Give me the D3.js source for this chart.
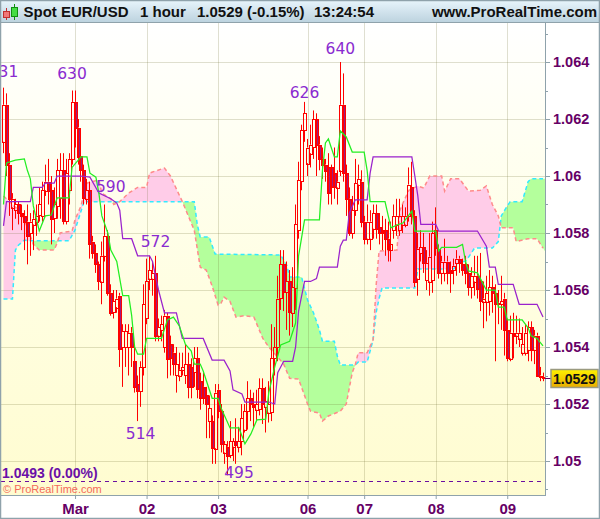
<!DOCTYPE html>
<html><head><meta charset="utf-8">
<script src="https://cdn.jsdelivr.net/npm/d3@7"></script>
<style>html,body{margin:0;padding:0;background:#fff}svg{display:block}</style>
</head><body><svg id="c" width="600" height="519"></svg>
<script>
// prices in pips above 1.0000 (630 = 1.0630), one entry per hourly candle
const opens=[612,625,604,589,588,590,587,586,584,580,
583,584,586,586,595,598,595,585,589.5,592,
602,584,595,606,626,617,607,602,592,595,
577,573,569,563,572,579,559,552,554,558,
540,540,540,545,535,527,524.5,533,550,564,
564,566,544,546,540,551,541,538,530,530,
532,530,534,533,531,536,528,526,523,514,
514,504.5,525,517.5,503,505,502,505,507,505,
507,511,517.5,522,520,518,518,525.5,519,517,
517,536,540,557,569,559,563,552,560.5,581,
598,616,604.5,608,610,620,611,606,604,603,
603,601,596,602,625,601,592,580,588,597,
598,584,578,578,581.5,587,582,581,581,578,
574,581,583,581,583,583,586,596,586,564,
573,575,563.5,563,563.5,581,574.5,566,566,570,
567,567,569.5,571,569,569,566,561,563,565,
563,556,556,556,561,559,555,555,557,546,
536,545,544,543,538,538,539,547,539,544,
530,529.5];
const closes=[625,604,592,592,590,587,586,584,579,584,
585,586,590,595,598,595,585,590,602,602,
584,601,606,626,617,607,602,592,595,576,
573,569,563,572,579,559,552,556,557,539.5,
545.5,545.5,545,540,526,524.5,533,555,563,567,
566,544,547,548,551,536,536,534,534,532,
533,534,526,526,536,525,522,522,520,518.5,
504.5,524,517.5,506,506,502,507,507,505.5,507,
515,517.5,522,520,519,520,525.5,520,521,520,
536,540,557,569,559,563,552,561,583,598.5,
616,622,610,611,620,611,606,604,602,594,
596,596,598,625,601,592,580,588,597.5,599,
584,578,584,584,587,581.5,580,580,578,574.5,
576,586,586,586,586,586,597,586,563,574.5,
575,569.5,569.5,571.7,580,574.7,566,570,570,566,
566,568.5,571,569.5,567,566,561,565,565,560.5,
556,557,559,561,559,555,555.5,556,546,536,
545,544,545,545,541,545,547,539,544,530,
529.5,529];
const highs=[631,629,608,594,592,591,590,588,590,587,
588,590,596,598,604,606,600,596,606,608,
608,606,608,630,630,620,611,604,599,598,
579,576,570,577,590,581,562,560,560,559,
548,548,548,547,540,530,535,562,571,572,
570,572,550,551,553,552,544,541,540,538,
538,541,538,536,540,540,531,531,526,523,
516,527,527,520,507,507,514,508,515,512,
520,520,528,525,524,525,529,529,526,528,
548,547,565,574,574,570,567,568,590,605,
618,626,613,618,623,622,614,610,606,608,
604,610,602,640,636,604,596,593,606,604,
602,586,590,588,590,590,587,586,585,584,
584,590,592,592,590,589,603,605,588,580,
581,580,574,580,584,589,576,572,578,572,
570,571,574,572,571,572,569,568,572,572,
573,563,565,567,565,562,560,565,559,550,
551,552,551,550,547,548,549,549,546,545,
533,531];
const lows=[608,600,586,581,585,583,581,574,569,572,
574,579,584,584,593,590,576,580,585,585,
583,583,590,604,610,604,598,590,590,571,
571,566,560,555,570,558,551,550,552,533,
526,533,530,533,524,514,519,530,548,560,
558,542,542,542,538,529,530,530,524,528,
530,527,522,522,526,522,518,520,508,508,
499,499,515,503,499,495,501,500,499,503,
502,510,511,514,512,514,516,513,510,513.5,
514,530,535,553,552.6,546,544,547,553,578,
595,612,600,603,606,600,602,599,598,590,
590,592,590,600,598,586,579,578,586,590,
582,576,576,574,578,578,576,574,572,570,
570,578,579,579,580,582,584,583,561,558,
570,566,560,558,559,572,564,562,563,562,
559,562,565,566,565,562,558,557,558,557,
552.6,546.6,549,551,552,535,548,546,537,535,
535,536,541,540,537,537,535,535,534,530,
528,528];

// Ichimoku lines: candle index where the level changes, and the level
const kijunIdx=[0,1,9,10,13,14,17,18,26,29,32,36,38,39,40,43,45,49,50,52,54,58,60,67,70,74,76,77,80,81,89,91,92,94,97,98,99,101,103,105,106,112,113,114,115,116,118,122,123,124,137,138,139,140,145,146,159,162,163,165,166,171,173,179,181];
const kijunVal=[582.5,591,591,596,596,597.5,597.5,600,600,599.6,594,592,590.5,588,578,578,572,572,570,560,552,552,543,543,535.4,535.4,531.6,525,523.5,520.7,520.7,520,531,535,535,540,552.6,563,563,564,568,568,575.4,577.5,577.5,587,591.6,591.6,601,606.7,606.7,600,593,583,583,580.7,580.7,575.4,568,568,562,562,555,555,550.5];
const tenkanIdx=[0,1,4,7,8,9,10,12,14,16,18,22,23,26,28,29,31,32,33,35,36,38,40,42,43,44,45,47,48,53,55,57,59,61,63,64,66,67,70,72,73,76,79,81,83,85,88,89,91,93,96,98,99,101,106,107,108,109,111,112,113,115,117,121,122,123,128,130,132,134,136,137,138,145,146,147,152,154,155,156,159,162,165,166,168,169,174,176,177,179,181];
const tenkanVal=[590,604.6,605.6,606,602,599,589.5,580.7,586,586.3,592.3,592.3,603,606.7,606.7,601,599.6,594,586,580,574,570,558,558,551,540,537.5,537.5,543,543,549.5,550.5,547.4,541,538.6,534,534,531.6,522,522,518.6,511.6,511.6,506,509.5,514.4,514.7,524,533,540.7,542,548.4,572,584.6,584.6,602,611.6,613,606.7,606.7,615.8,613.7,608.4,608.4,602,591,591,581.8,582.8,583.5,586.3,587.7,580.7,580.7,573.7,575,575,576,570,566.7,566,560,560,554,554,549.5,549.5,546.7,543.9,543,540.4];
const spanAIdx=[0,3,4,5,7,8,22,24,27,64,65,66,69,71,93,95,96,100,102,104,106,107,111,112,113,118,119,122,124,125,126,127,138,139,151,153,155,157,158,164,166,167,169,170,174,176,177,181];
const spanAVal=[556.8,556.8,574,575.7,577.5,577.3,577.3,581,591,591,583,578.6,578.6,572.6,572.3,568.8,564.6,564.6,556.5,552,546,542,542,536.8,533.7,533.7,534.7,534.7,542.5,552,557,560.7,560.7,567.4,567.4,570,570,573,574.7,574.7,577,586,589.5,591,591,598,599,599];
const spanBIdx=[0,3,6,8,10,12,17,18,19,23,24,26,27,28,32,33,36,37,39,42,45,48,49,50,54,56,60,62,64,66,68,70,72,73,74,76,78,81,84,87,89,94,96,99,102,103,106,107,109,113,115,117,118,119,122,124,125,126,132,133,134,136,139,141,143,147,148,150,153,156,160,162,164,166,167,171,172,176,179,181];
const spanBVal=[593,590,587,582,576,574,574,576.5,580,580.7,584.6,589.5,594,597.5,598.6,594,592,590,591,594,596,596,601,601.4,602.8,600,591,586,581,568,567,561.4,554.7,555.4,557.5,556,550.5,551,550.5,543,540,534,529,528.8,520,517.5,516.8,514,515.8,517.5,520,531,533.7,538,538,542.5,561.4,573.7,574,588,590.5,595,596.5,595.8,600,600,594.7,599,599,594.7,595,596.5,590,586,581.8,581.8,577,578,578,574.7];

const annotIdx=[0,23,113,101,36,51,46,79];
const annotVal=["631","630","640","626","590","572","514","495"];
const annotLevel=[631,630,640,626,592,576,508,495];

const dateIdx=[24,48,72,102,121,145,169];
const dateLabels=["Mar","02","03","06","07","08","09"];
const priceTicks=[500,520,540,560,580,600,620,640];
const priceLabels=["1.05","1.052","1.054","1.056","1.058","1.06","1.062","1.064"];
const minorTicks=[490,510,530,550,570,590,610,630,650];
const lastPrice=529, prevClose=493;
const headerLeft=["Spot EUR/USD","1 hour","1.0529 (-0.15%)","13:24:54"];
const headerRight="www.ProRealTime.com";

const svg=d3.select("#c");
const FONT="'Liberation Sans',Arial,sans-serif";
const PL=1,PR=545,PT=23,PB=495;
const x=d3.scaleLinear().domain([0,181]).range([3.5,543]);
const y=d3.scaleLinear().domain([500,640]).range([461,62]);
const defs=svg.append("defs");
const grad=(id,stops)=>{const g=defs.append("linearGradient").attr("id",id).attr("x1",0).attr("y1",0).attr("x2",0).attr("y2",1);
 stops.forEach(s=>g.append("stop").attr("offset",s[0]).attr("stop-color",s[1]));};
grad("bg",[[0,"#ffffff"],[0.25,"#fffff2"],[0.6,"#fffee0"],[1,"#fffcd0"]]);
grad("hd",[[0,"#e8f5fc"],[1,"#bdd3df"]]);
grad("lab",[[0,"#fff200"],[1,"#e8ac00"]]);
defs.append("clipPath").attr("id","clip").append("rect").attr("x",PL).attr("y",PT).attr("width",PR-PL).attr("height",PB-PT);

svg.append("rect").attr("width",600).attr("height",519).attr("fill","#fff");
svg.append("rect").attr("x",PL).attr("y",PT).attr("width",PR-PL).attr("height",PB-PT).attr("fill","url(#bg)");
const plot=svg.append("g").attr("clip-path","url(#clip)");

// cloud
const indices=d3.range(0,182,0.25);
const A=d3.scaleLinear().domain(spanAIdx).range(spanAVal);
const B=d3.scaleLinear().domain(spanBIdx).range(spanBVal);
plot.append("path").datum(indices).attr("fill","#b4ff9c")
 .attr("d",d3.area().x(d=>x(d)).y0(d=>y(B(d))).y1(d=>y(Math.max(A(d),B(d)))));
plot.append("path").datum(indices).attr("fill","#ffcce8")
 .attr("d",d3.area().x(d=>x(d)).y0(d=>y(A(d))).y1(d=>y(Math.max(A(d),B(d)))));

// grid
const gridCol="rgba(110,110,50,0.22)";
plot.selectAll(".gh").data(priceTicks).join("line").attr("x1",PL).attr("x2",PR)
 .attr("y1",d=>Math.round(y(d))+.5).attr("y2",d=>Math.round(y(d))+.5).attr("stroke",gridCol);
plot.selectAll(".gv").data(dateIdx).join("line").attr("y1",PT).attr("y2",PB)
 .attr("x1",d=>Math.round(x(d))+.5).attr("x2",d=>Math.round(x(d))+.5).attr("stroke",gridCol);

const lineOf=(idx,val)=>d3.line().x(i=>x(idx[i])).y(i=>y(val[i]))(d3.range(idx.length));
plot.append("path").attr("d",lineOf(spanAIdx,spanAVal)).attr("fill","none").attr("stroke","#33eaff").attr("stroke-width",1.5).attr("stroke-dasharray","4 3");
plot.append("path").attr("d",lineOf(spanBIdx,spanBVal)).attr("fill","none").attr("stroke","#ff8a8a").attr("stroke-width",1.5).attr("stroke-dasharray","4 3");

// previous close
plot.append("line").attr("x1",PL).attr("x2",543).attr("y1",481.5).attr("y2",481.5)
 .attr("stroke","#6a0fa0").attr("stroke-dasharray","4 4");

// candles
const cand=plot.append("g");
opens.forEach((o,i)=>{
 const c=closes[i],px=Math.floor(x(i))+.5,top=y(Math.max(o,c)),bot=y(Math.min(o,c));
 cand.append("line").attr("x1",px).attr("x2",px).attr("y1",y(highs[i])).attr("y2",top).attr("stroke","#f00");
 cand.append("line").attr("x1",px).attr("x2",px).attr("y1",bot).attr("y2",y(lows[i])).attr("stroke","#f00");
 const t=Math.round(top)+.5,h=Math.max(1,Math.round(bot-top));
 cand.append("rect").attr("x",px-1).attr("width",3).attr("y",t).attr("height",h)
  .attr("fill",c<o?"#f00":"none").attr("stroke","#f00");
 if(c<o&&h>3) cand.append("line").attr("x1",px+1).attr("x2",px+1).attr("y1",t+1).attr("y2",t+h-1)
  .attr("stroke","#7a25a8").attr("stroke-opacity",.75);
});

plot.append("path").attr("d",lineOf(kijunIdx,kijunVal)).attr("fill","none").attr("stroke","#9a22cc").attr("stroke-width",1.25);
plot.append("path").attr("d",lineOf(tenkanIdx,tenkanVal)).attr("fill","none").attr("stroke","#22ee22").attr("stroke-width",1.25);

// annotations
const annotOffset=[-11,-12,-8,-4,-7,3,1,3];
plot.selectAll(".an").data(annotVal).join("text").text(d=>d)
 .attr("x",(d,i)=>x(annotIdx[i])).attr("y",(d,i)=>y(annotLevel[i])+annotOffset[i])
 .attr("text-anchor","middle").attr("fill","#8a2bd0")
 .attr("font-family","'DejaVu Sans',sans-serif").attr("font-size",15.5);

plot.append("text").text("1.0493 (0.00%)").attr("x",2).attr("y",478).attr("fill","#6a0fa8")
 .attr("font-family",FONT).attr("font-weight","bold").attr("font-size",14);
plot.append("text").text("\u00a9 ProRealTime.com").attr("x",3).attr("y",493).attr("fill","#f46a5a")
 .attr("font-family",FONT).attr("font-size",11);

// axes
const AXC="#8fa2ab",LAB="#660066";
const xAxis=svg.append("g").attr("transform",`translate(0,${PB})`)
 .call(d3.axisBottom(x).tickValues(dateIdx).tickFormat((d,i)=>dateLabels[i]).tickSize(4).tickPadding(4));
xAxis.select(".domain").remove();
xAxis.selectAll("line").attr("stroke",AXC);
xAxis.selectAll("text").attr("fill",LAB).attr("font-family",FONT).attr("font-weight","bold").attr("font-size",15);

const yAxis=svg.append("g").attr("transform",`translate(${PR},0)`)
 .call(d3.axisRight(y).tickValues(priceTicks).tickFormat((d,i)=>priceLabels[i]).tickSize(5).tickPadding(3));
yAxis.select(".domain").remove();
yAxis.selectAll("line").attr("stroke",AXC);
yAxis.selectAll("text").attr("fill",LAB).attr("font-family",FONT).attr("font-weight","bold").attr("font-size",14.5);
svg.selectAll(".mt").data(minorTicks).join("line").attr("x1",PR).attr("x2",PR+3)
 .attr("y1",d=>Math.round(y(d))+.5).attr("y2",d=>Math.round(y(d))+.5).attr("stroke",AXC);

svg.append("line").attr("x1",PR+.5).attr("x2",PR+.5).attr("y1",PT).attr("y2",PB).attr("stroke",AXC);
svg.append("line").attr("x1",0).attr("x2",PR+1).attr("y1",PB+.5).attr("y2",PB+.5).attr("stroke",AXC);

// last price tag
const ly=y(lastPrice);
svg.append("line").attr("x1",PR).attr("x2",551).attr("y1",Math.round(ly)+.5).attr("y2",Math.round(ly)+.5).attr("stroke",LAB);
svg.append("rect").attr("x",551).attr("y",369.5).attr("width",47).attr("height",18).attr("fill","url(#lab)").attr("stroke","#9a9a80").attr("stroke-width",1.5);
svg.append("text").text("1.0529").attr("x",574.5).attr("y",383.5).attr("text-anchor","middle")
 .attr("font-family",FONT).attr("font-weight","bold").attr("font-size",14).attr("fill","#111");

// header
svg.append("rect").attr("x",0).attr("y",0).attr("width",600).attr("height",22).attr("fill","url(#hd)");
svg.append("line").attr("x1",0).attr("x2",600).attr("y1",22.5).attr("y2",22.5).attr("stroke",AXC);
svg.append("line").attr("x1",0).attr("x2",600).attr("y1",.5).attr("y2",.5).attr("stroke",AXC);
const hdX=[23.5,140,197,314];
svg.selectAll(".hl").data(headerLeft).join("text").text(d=>d).attr("x",(d,i)=>hdX[i]).attr("y",17)
 .attr("font-family",FONT).attr("font-weight","bold").attr("font-size",15).attr("fill","#111");
svg.append("text").text(headerRight).attr("x",597).attr("y",17).attr("text-anchor","end")
 .attr("font-family",FONT).attr("font-weight","bold").attr("font-size",15).attr("fill","#111");
// header icon
svg.append("line").attr("x1",6.5).attr("x2",6.5).attr("y1",8).attr("y2",20).attr("stroke","#c03030");
svg.append("rect").attr("x",3.5).attr("y",11.5).attr("width",6).attr("height",6).attr("fill","#f07878").attr("stroke","#c03030");
svg.append("line").attr("x1",14.5).attr("x2",14.5).attr("y1",4).attr("y2",20).attr("stroke","#109010");
svg.append("rect").attr("x",11.5).attr("y",7.5).attr("width",6).attr("height",9).attr("fill","#44dd44").attr("stroke","#109010");

// frame
svg.append("rect").attr("x",.5).attr("y",.5).attr("width",599).attr("height",518).attr("fill","none").attr("stroke",AXC).attr("stroke-width",1.5);
</script></body></html>
